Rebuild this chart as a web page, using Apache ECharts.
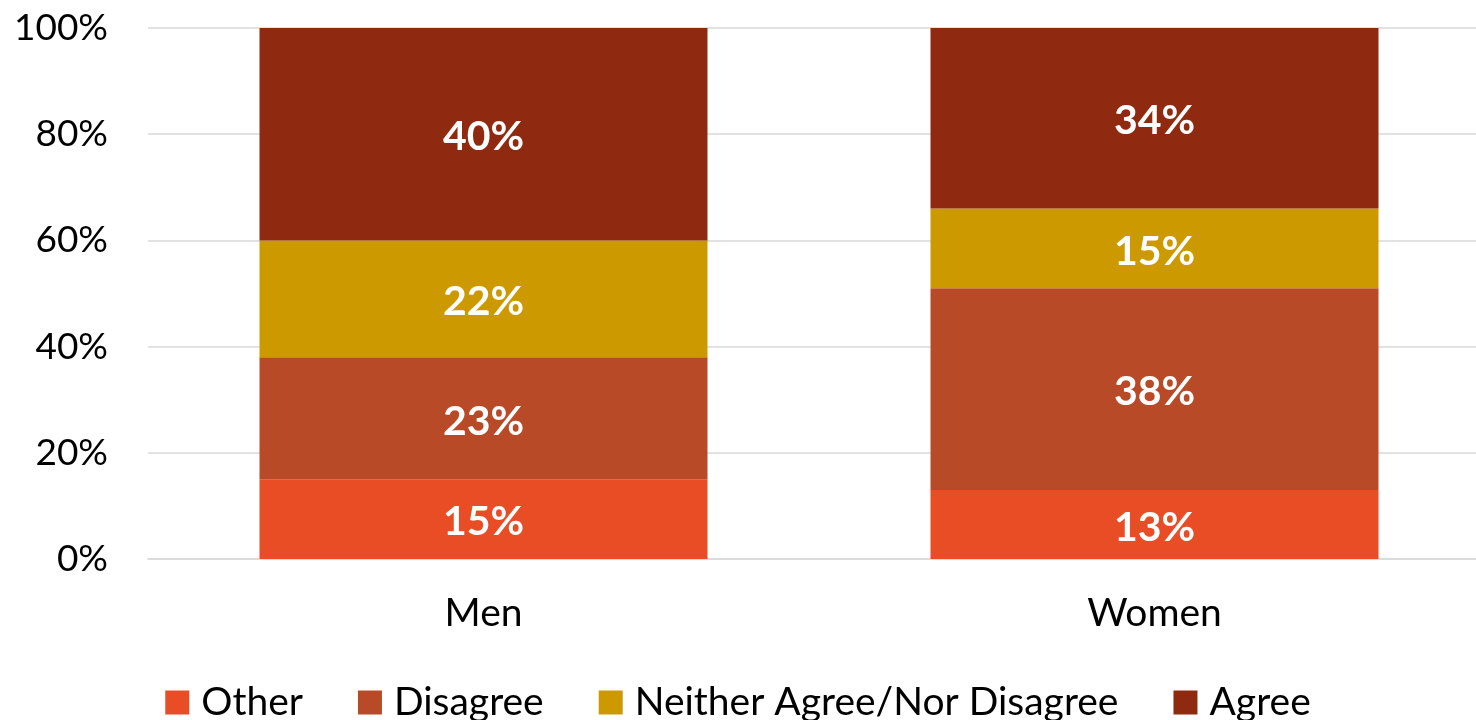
<!DOCTYPE html>
<html>
<head>
<meta charset="utf-8">
<style>
  html, body { margin: 0; padding: 0; background: #ffffff; }
  #chart { width: 1476px; height: 720px; }
</style>
<script src="https://cdn.jsdelivr.net/npm/echarts@6/dist/echarts.min.js"></script>
</head>
<body>
<div id="chart"></div>
<script>
// Survey responses by gender, shares in percent
const categories = ['Men', 'Women'];
const otherValues = [15, 13];
const disagreeValues = [23, 38];
const neitherValues = [22, 15];
const agreeValues = [40, 34];
const yTicks = [0, 20, 40, 60, 80, 100];

const FONT = 'Lato, "Open Sans", sans-serif';

const seriesDefs = [
  { name: 'Other', data: otherValues, color: '#E84D25' },
  { name: 'Disagree', data: disagreeValues, color: '#B84A28' },
  { name: 'Neither Agree/Nor Disagree', data: neitherValues, color: '#CC9A00' },
  { name: 'Agree', data: agreeValues, color: '#8F2A10' }
];

const chart = echarts.init(document.getElementById('chart'));
chart.setOption({
  animation: false,
  backgroundColor: '#ffffff',
  // the plot area runs a little past the right edge of the canvas
  grid: { left: 148, top: 28, width: 1342, height: 531, outerBoundsMode: 'none', containLabel: false },
  legend: {
    top: 678,
    left: 'center',
    itemWidth: 24,
    itemHeight: 24,
    itemGap: 55,
    icon: 'rect',
    textStyle: { fontFamily: FONT, fontSize: 39, color: '#000000', padding: [0, 0, 0, 7] },
    data: seriesDefs.map(s => s.name)
  },
  xAxis: {
    type: 'category',
    data: categories,
    axisLine: { show: true, lineStyle: { color: '#D9D9D9', width: 1.5 } },
    axisTick: { show: false },
    axisLabel: { fontFamily: FONT, fontSize: 39, color: '#000000', margin: 35 }
  },
  yAxis: {
    type: 'value',
    min: yTicks[0],
    max: yTicks[yTicks.length - 1],
    interval: 20,
    axisLine: { show: false },
    axisTick: { show: false },
    splitLine: { lineStyle: { color: '#D9D9D9', width: 1.5 } },
    axisLabel: {
      fontFamily: FONT, fontSize: 37, color: '#000000', margin: 40,
      formatter: v => v + '%'
    }
  },
  series: seriesDefs.map(s => ({
    name: s.name,
    type: 'bar',
    stack: 'total',
    barWidth: 448,
    data: s.data,
    itemStyle: { color: s.color },
    label: {
      show: true,
      position: 'inside',
      offset: [0, 3],
      formatter: p => p.value + '%',
      fontFamily: FONT,
      fontSize: 41,
      fontWeight: 'bold',
      color: '#ffffff'
    }
  }))
});
</script>
</body>
</html>
